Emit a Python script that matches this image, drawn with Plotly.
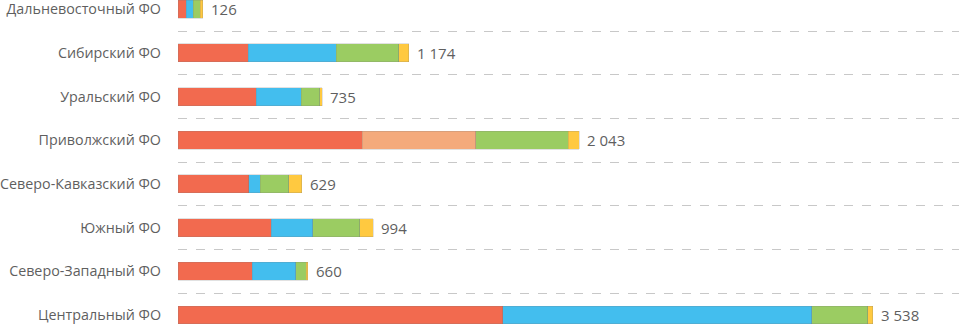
import plotly.graph_objects as go

categories = ["Центральный ФО", "Северо-Западный ФО", "Южный ФО", "Северо-Кавказский ФО",
              "Приволжский ФО", "Уральский ФО", "Сибирский ФО", "Дальневосточный ФО"]

s_red = [1653, 378, 476, 360, 938, 398, 358, 41]
s_blue = [1575, 222, 209, 60, None, 229, 447, 36]
s_salmon = [None, None, None, None, 579, None, None, None]
s_green = [285, 54, 241, 144, 470, 96, 318, 36]
s_yellow = [25, 6, 68, 65, 56, 12, 51, 13]

series = [
    ("s1", s_red, "#F26A4F"),
    ("s2", s_blue, "#43BEEE"),
    ("s3", s_salmon, "#F4AA7C"),
    ("s4", s_green, "#9BCC62"),
    ("s5", s_yellow, "#FFC940"),
]

totals = [sum(v[i] or 0 for _, v, _ in series) for i in range(len(categories))]

def fmt(n):
    return f"{n:,}".replace(",", " ")

fig = go.Figure()
for name, vals, color in series:
    fig.add_trace(go.Bar(
        y=categories, x=vals, name=name, orientation="h",
        marker=dict(color=color, line=dict(color="rgba(120,120,120,0.28)", width=0.8)),
        width=0.41,
    ))

for cat, tot in zip(categories, totals):
    fig.add_annotation(x=tot, y=cat, text=fmt(tot), showarrow=False,
                       xanchor="left", xshift=6, yshift=0,
                       font=dict(family="Open Sans", size=15, color="#5F5F5F"))

fig.update_layout(
    barmode="stack",
    width=959, height=324,
    margin=dict(l=178, r=0, t=0, b=0, autoexpand=False),
    plot_bgcolor="white", paper_bgcolor="white",
    showlegend=False,
    font=dict(family="Open Sans", size=14.3, color="#5F5F5F"),
    xaxis=dict(visible=False, range=[0, 3977], automargin=False),
    yaxis=dict(range=[-0.206, 7.21], tickson="boundaries", showgrid=True,
               gridcolor="#C8C8C8", griddash="dash", gridwidth=1, automargin=False,
               ticks="", ticklabelstandoff=16, showline=False, zeroline=False,
               categoryorder="array", categoryarray=categories),
)

fig.write_html("out.html", config={"displayModeBar": False},
               post_script="document.body.style.margin='0px';document.body.style.overflow='hidden';")
